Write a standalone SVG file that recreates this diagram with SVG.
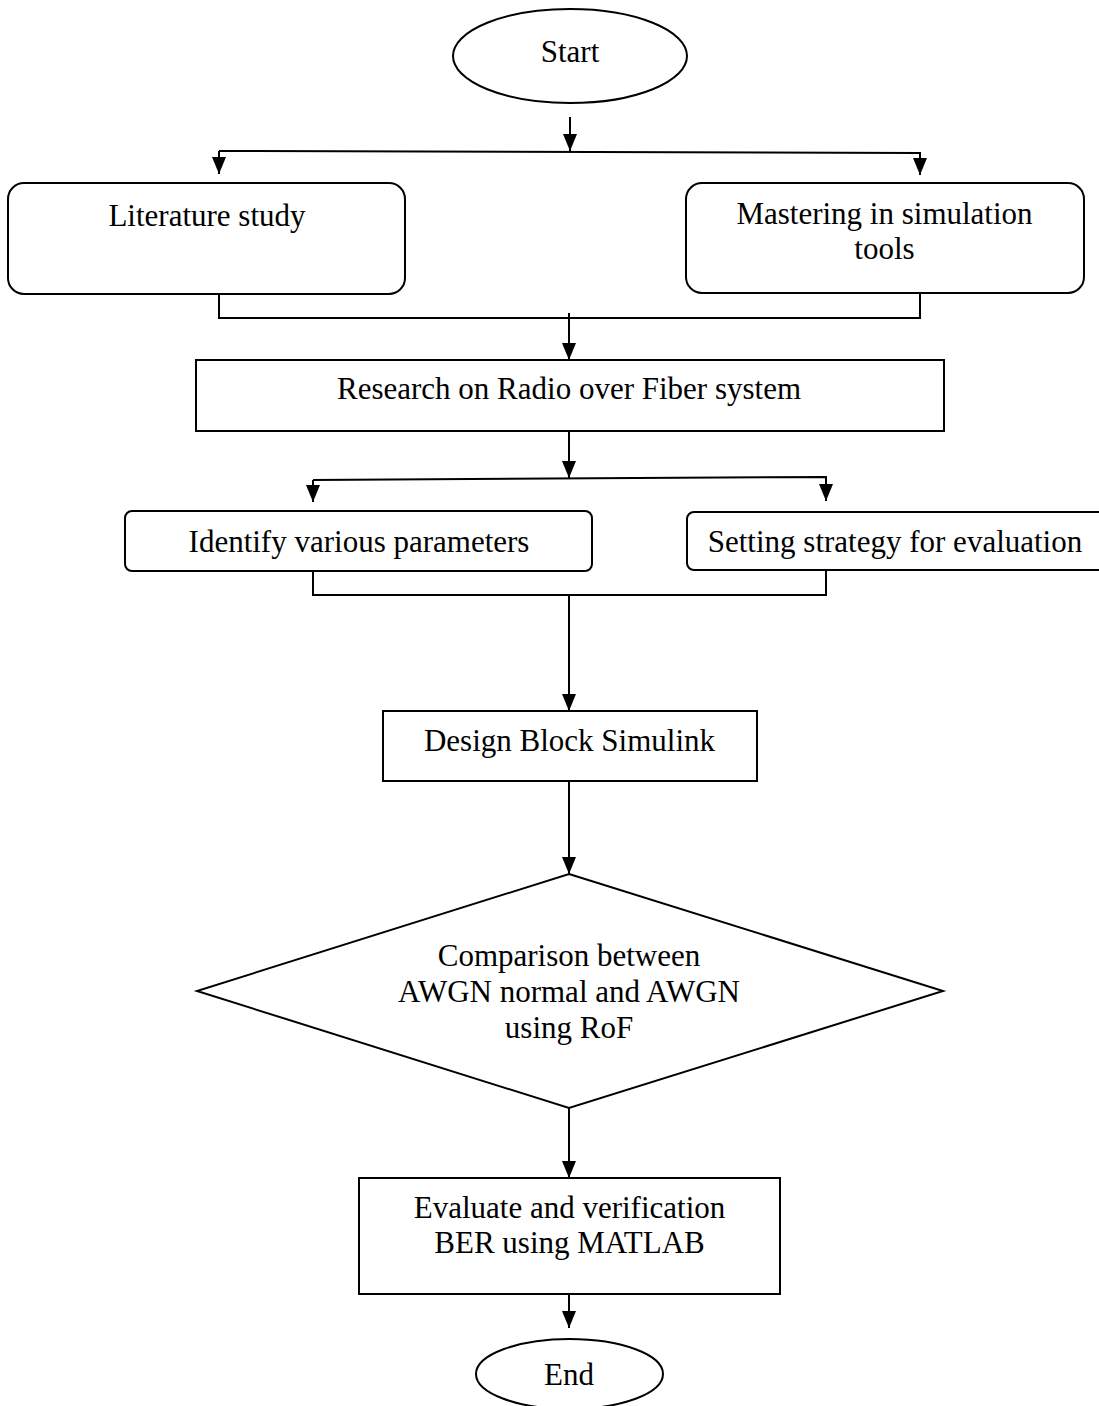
<svg xmlns="http://www.w3.org/2000/svg" width="1099" height="1406" viewBox="0 0 1099 1406">
<defs>
<style>
.shape{fill:#fff;stroke:#000;stroke-width:2}
.ln{fill:none;stroke:#000;stroke-width:2}
.t{font-family:"Liberation Serif","Times New Roman",serif;font-size:31px;fill:#000;text-anchor:middle}
</style>
<marker id="ah" viewBox="0 0 17 14" refX="17" refY="7" markerWidth="17" markerHeight="14" markerUnits="userSpaceOnUse" orient="auto">
<path d="M0,0 L17,7 L0,14 Z" fill="#000"/>
</marker>
</defs>
<rect width="1099" height="1406" fill="#fff"/>
<g id="connectors">
<line class="ln" x1="570" y1="117" x2="570" y2="151" marker-end="url(#ah)"/>
<polyline class="ln" points="219,151 920,153 920,175" marker-end="url(#ah)"/>
<line class="ln" x1="219" y1="151" x2="219" y2="174" marker-end="url(#ah)"/>
<polyline class="ln" points="219,294 219,318 920,318 920,293"/>
<line class="ln" x1="569" y1="313" x2="569" y2="360" marker-end="url(#ah)"/>
<line class="ln" x1="569" y1="431" x2="569" y2="478" marker-end="url(#ah)"/>
<polyline class="ln" points="313,480 826,477 826,501" marker-end="url(#ah)"/>
<line class="ln" x1="313" y1="480" x2="313" y2="502" marker-end="url(#ah)"/>
<polyline class="ln" points="313,571 313,595 826,595 826,570"/>
<line class="ln" x1="569" y1="595" x2="569" y2="711" marker-end="url(#ah)"/>
<line class="ln" x1="569" y1="781" x2="569" y2="874" marker-end="url(#ah)"/>
<line class="ln" x1="569" y1="1108" x2="569" y2="1178" marker-end="url(#ah)"/>
<line class="ln" x1="569" y1="1294" x2="569" y2="1328" marker-end="url(#ah)"/>
</g>
<g id="start">
<ellipse class="shape" cx="570" cy="56" rx="117" ry="47"/>
<text class="t" x="570" y="62">Start</text>
</g>
<g id="literature">
<rect class="shape" x="8" y="183" width="397" height="111" rx="16" ry="16"/>
<text class="t" x="207" y="226">Literature study</text>
</g>
<g id="mastering">
<rect class="shape" x="686" y="183" width="398" height="110" rx="16" ry="16"/>
<text class="t" x="884.5" y="224">Mastering in simulation</text>
<text class="t" x="884.5" y="259">tools</text>
</g>
<g id="research">
<rect class="shape" x="196" y="360" width="748" height="71"/>
<text class="t" x="569" y="399">Research on Radio over Fiber system</text>
</g>
<g id="identify">
<rect class="shape" x="125" y="511" width="467" height="60" rx="7" ry="7"/>
<text class="t" x="359" y="552">Identify various parameters</text>
</g>
<g id="setting">
<rect class="shape" x="687" y="512" width="430" height="58" rx="7" ry="7"/>
<text class="t" x="895" y="552">Setting strategy for evaluation</text>
</g>
<g id="design">
<rect class="shape" x="383" y="711" width="374" height="70"/>
<text class="t" x="569.5" y="751">Design Block Simulink</text>
</g>
<g id="comparison">
<polygon class="shape" points="569,874 943,991 569,1108 197,991"/>
<text class="t" x="569" y="966">Comparison between</text>
<text class="t" x="569" y="1002">AWGN normal and AWGN</text>
<text class="t" x="569" y="1038">using RoF</text>
</g>
<g id="evaluate">
<rect class="shape" x="359" y="1178" width="421" height="116"/>
<text class="t" x="569.5" y="1218">Evaluate and verification</text>
<text class="t" x="569.5" y="1253">BER using MATLAB</text>
</g>
<g id="end">
<ellipse class="shape" cx="569.5" cy="1374" rx="93.5" ry="35"/>
<text class="t" x="569" y="1385">End</text>
</g>
</svg>
